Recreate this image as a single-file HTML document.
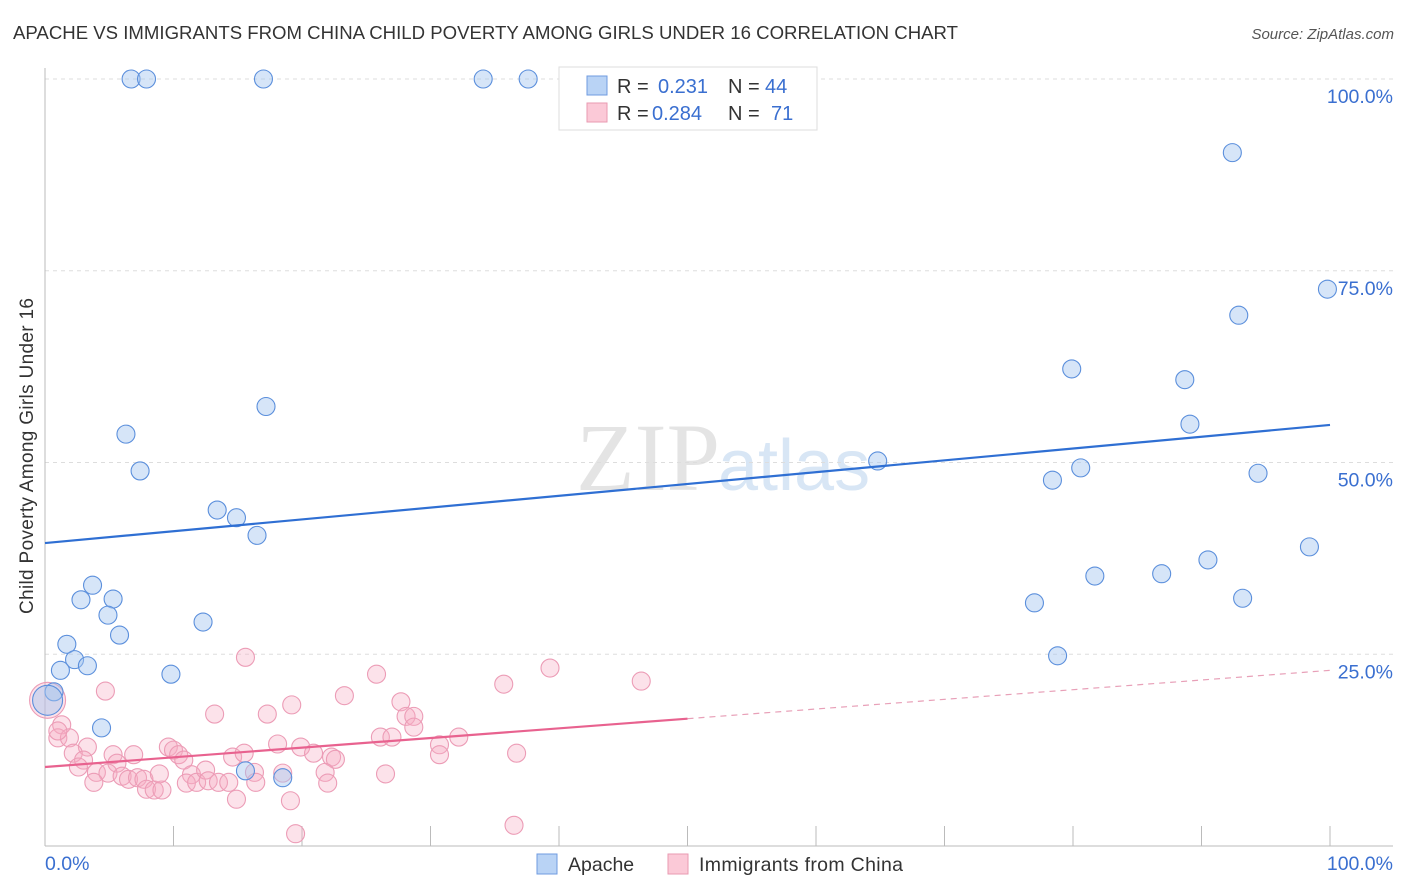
<!DOCTYPE html>
<html><head><meta charset="utf-8"><style>
body{margin:0;background:#fff;font-family:"Liberation Sans",sans-serif;}
svg{display:block}
</style></head><body>
<svg id="chart" width="1406" height="892">
<text x="13" y="39" font-size="18.6" fill="#333" textLength="945">APACHE VS IMMIGRANTS FROM CHINA CHILD POVERTY AMONG GIRLS UNDER 16 CORRELATION CHART</text>
<text x="1394" y="39" font-size="15" fill="#555" font-style="italic" text-anchor="end">Source: ZipAtlas.com</text>
<text x="720" y="490" font-size="96" font-family="Liberation Serif,serif" fill="#e4e4e4" text-anchor="end">ZIP</text>
<text x="718" y="490" font-size="72" fill="#d8e6f5">atlas</text>
<text transform="translate(33,456) rotate(-90)" font-size="19" fill="#333" text-anchor="middle" textLength="316">Child Poverty Among Girls Under 16</text>
<g id="grid"></g><g id="pts"></g><g id="lines"></g>
<g>
<rect x="559" y="67" width="258" height="63" fill="#fff" stroke="#ddd"/>
<rect x="587" y="76" width="20" height="19" fill="#b9d3f5" stroke="#6f9be0"/>
<rect x="587" y="103" width="20" height="19" fill="#fbc9d7" stroke="#e89ab2"/>
<text x="617" y="93" font-size="20" fill="#333">R = <tspan x="658" fill="#3a6fd0">0.231</tspan><tspan x="728" fill="#333">N = </tspan><tspan x="765" fill="#3a6fd0">44</tspan></text>
<text x="617" y="120" font-size="20" fill="#333">R = <tspan x="652" fill="#3a6fd0">0.284</tspan><tspan x="728" fill="#333">N = </tspan><tspan x="771" fill="#3a6fd0">71</tspan></text>
</g>
<g>
<rect x="537" y="854" width="20" height="20" fill="#b9d3f5" stroke="#6f9be0"/>
<text x="568" y="871" font-size="19.5" fill="#333">Apache</text>
<rect x="668" y="854" width="20" height="20" fill="#fbc9d7" stroke="#e89ab2"/>
<text x="699" y="871" font-size="19.5" fill="#333" textLength="204">Immigrants from China</text>
</g>
</svg>
<script>
const apacheX=[6.7,7.9,17.0,34.1,37.6,92.4,99.8,92.9,79.9,88.7,17.2,6.3,89.1,64.8,7.4,80.6,78.4,94.4,13.4,14.9,16.5,98.4,90.5,81.7,86.9,3.7,2.8,5.3,93.2,4.9,77.0,12.3,5.8,1.7,2.3,3.3,1.2,9.8,78.8,0.7,4.4,15.6,18.5,0.2];
const apacheY=[100,100,100,100,100,90.4,72.6,69.2,62.2,60.8,57.3,53.7,55.0,50.2,48.9,49.3,47.7,48.6,43.8,42.8,40.5,39.0,37.3,35.2,35.5,34.0,32.1,32.2,32.3,30.1,31.7,29.2,27.5,26.3,24.3,23.5,22.9,22.4,24.8,20.1,15.4,9.8,8.9,19.0];
const chinaX=[15.6,25.8,35.7,39.3,4.7,23.3,27.7,19.2,17.3,13.2,28.1,28.7,28.7,26.1,27.0,32.2,30.7,30.7,36.7,1.3,1.0,1.9,3.3,2.2,3.0,2.6,5.3,6.9,5.6,4.0,4.9,6.0,6.5,7.2,7.7,3.8,7.9,8.5,9.1,8.9,9.6,10.0,10.4,10.8,11.4,11.0,11.8,12.5,12.7,13.5,14.3,14.6,15.5,14.9,16.3,16.4,18.1,19.9,20.9,18.5,19.1,19.5,22.3,22.6,21.8,22.0,26.5,36.5,46.4,0.2,1.0];
const chinaY=[24.6,22.4,21.1,23.2,20.2,19.6,18.8,18.4,17.2,17.2,16.9,16.9,15.5,14.2,14.2,14.2,13.2,11.9,12.1,15.8,14.1,14.1,12.9,12.1,11.2,10.3,11.9,11.9,10.8,9.6,9.5,9.1,8.7,8.9,8.7,8.3,7.4,7.3,7.3,9.4,12.9,12.5,11.9,11.2,9.3,8.2,8.3,9.9,8.5,8.3,8.3,11.6,12.1,6.1,9.6,8.3,13.3,12.9,12.1,9.5,5.9,1.6,11.6,11.3,9.6,8.2,9.4,2.7,21.5,19.0,15.0];
const yTicks=[25,50,75,100];
const yTickLabels=["25.0%","50.0%","75.0%","100.0%"];
const apacheTrend=[39.5,54.9];
const chinaTrend=[10.3,22.9];
const NS="http://www.w3.org/2000/svg";
const X=v=>45+v*12.85, Y=v=>846-v*7.67;
function mk(tag,attrs,parent){const e=document.createElementNS(NS,tag);for(const k in attrs)e.setAttribute(k,attrs[k]);parent.appendChild(e);return e;}
const grid=document.getElementById('grid');
yTicks.forEach((t,i)=>{
 const l=mk('line',{x1:45,x2:1393,y1:Y(t),y2:Y(t),stroke:'#ddd','stroke-dasharray':'4,4'},grid);
 
 
 const tx=mk('text',{x:1393,y:Y(t)+24,'font-size':19.5,fill:'#3a6fd0','text-anchor':'end'},grid);
 tx.textContent=yTickLabels[i];
 
 
});
mk('line',{x1:45,x2:45,y1:68,y2:846,stroke:'#bbb'},grid);
mk('line',{x1:45,x2:1393,y1:846,y2:846,stroke:'#bbb'},grid);
for(let i=1;i<=10;i++){const t=mk('line',{x1:X(i*10),x2:X(i*10),y1:826,y2:846,stroke:'#bbb'},grid);}
const x0=mk('text',{x:45,y:870,'font-size':19.5,fill:'#3a6fd0'},grid);x0.textContent='0.0%';


const x1=mk('text',{x:1393,y:870,'font-size':19.5,fill:'#3a6fd0','text-anchor':'end'},grid);x1.textContent='100.0%';


const pts=document.getElementById('pts');
chinaX.forEach((v,i)=>{const c=mk('circle',{cx:X(v),cy:Y(chinaY[i]),r:i==69?18:9,fill:'rgba(247,172,196,0.35)',stroke:'#ec9cb6','stroke-width':1.1},pts);
 
 });
apacheX.forEach((v,i)=>{const c=mk('circle',{cx:X(v),cy:Y(apacheY[i]),r:i==43?15:9,fill:'rgba(165,198,240,0.45)',stroke:'#5b8fdc','stroke-width':1.1},pts);
 
 });
const lines=document.getElementById('lines');
const la=mk('line',{x1:X(0),y1:Y(apacheTrend[0]),x2:X(100),y2:Y(apacheTrend[1]),stroke:'#2f6fd3','stroke-width':2.2},lines);


const cm=v=>chinaTrend[0]+(chinaTrend[1]-chinaTrend[0])*v/100;
const lc=mk('line',{x1:X(0),y1:Y(cm(0)),x2:X(50),y2:Y(cm(50)),stroke:'#e8628f','stroke-width':2.2},lines);


const ld=mk('line',{x1:X(50),y1:Y(cm(50)),x2:X(100),y2:Y(cm(100)),stroke:'#e8a0b8','stroke-width':1.2,'stroke-dasharray':'6,5'},lines);


</script>
</body></html>
